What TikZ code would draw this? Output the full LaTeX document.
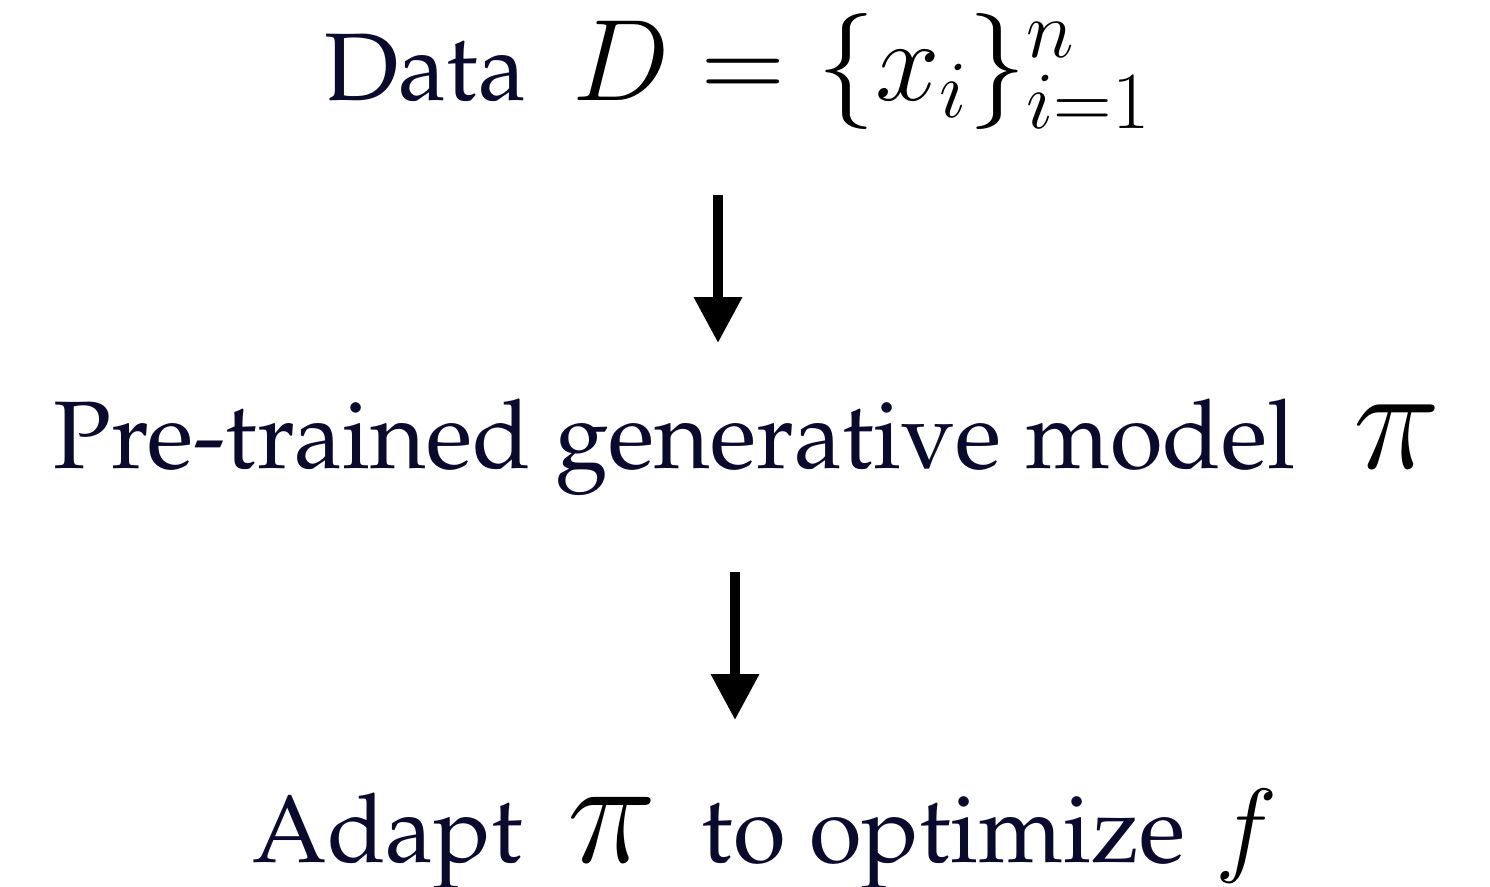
\RequirePackage{fix-cm}
\documentclass[tikz,border=0pt]{standalone}
\usepackage[T1]{fontenc}
\usepackage{palatino}
\usepackage{amsmath}
\usetikzlibrary{arrows.meta}
\definecolor{inkblue}{HTML}{0A0A2E}
\newcommand{\mth}[2]{{\color{black}\fontsize{#1}{#1}\selectfont$#2$}}

\begin{document}
\begin{tikzpicture}[label text/.style={anchor=base,inner sep=0pt,text=inkblue,font=\fontsize{27.3}{32}\selectfont},flow arrow/.style={line width=2.8pt,-{Triangle[width=0.46cm,length=0.46cm]}}]
	\useasboundingbox (0,0) rectangle (14.9,-8.86);
	\node[label text] (data)  at (7.38,-1.00) {Data\hspace{0.46cm}\mth{33}{D = \{x_i\}_{i=1}^n}};
	\node[label text] (model) at (7.47,-4.68) {Pre-trained generative model\hspace{0.58cm}\mth{42}{\pi}};
	\node[label text] (adapt) at (7.65,-8.62) {Adapt\hspace{0.45cm}\mth{43}{\pi}\hspace{0.45cm}to optimize\hspace{0.3cm}\mth{30}{f}};
	\coordinate (a1) at (7.18,-1.95); \coordinate (b1) at (7.18,-3.43);
	\coordinate (a2) at (7.35,-5.72); \coordinate (b2) at (7.35,-7.20);
	\draw[flow arrow] (a1) -- (b1);
	\draw[flow arrow] (a2) -- (b2);
\end{tikzpicture}
\end{document}
